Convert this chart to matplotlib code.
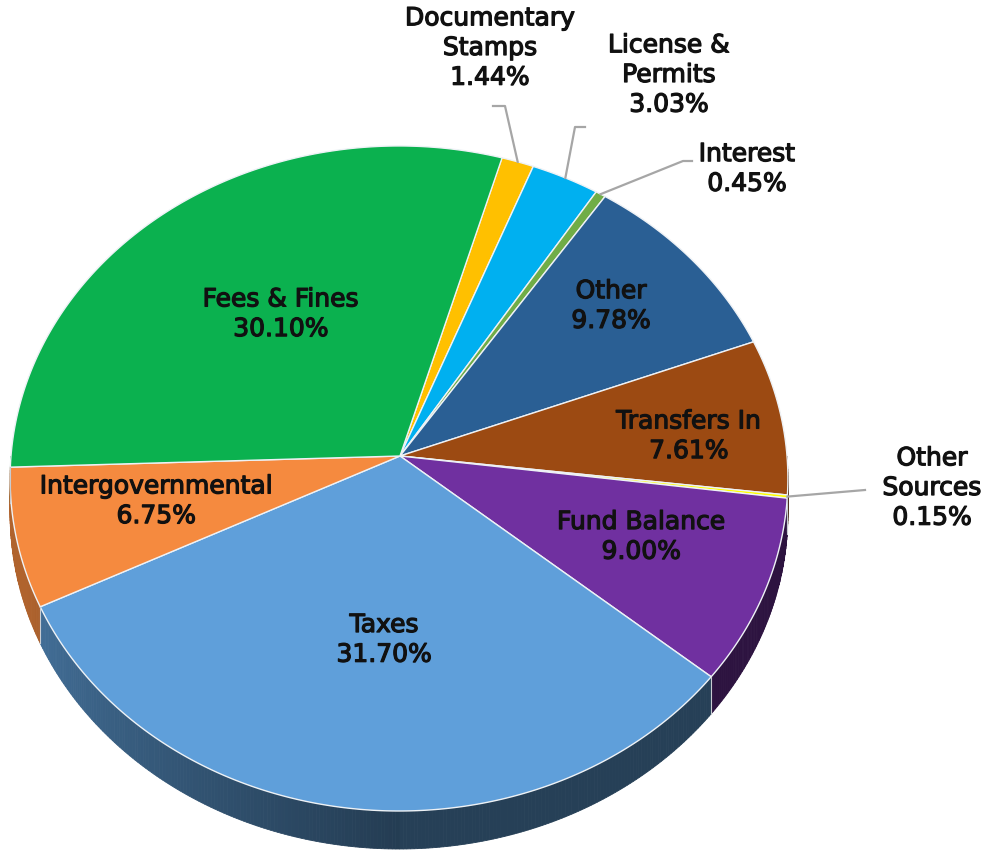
import numpy as np
import matplotlib.pyplot as plt
from matplotlib.patches import Polygon
from matplotlib import patheffects
from matplotlib.colors import to_rgb

# slices in clockwise order, starting just right of 12 o'clock
categories = ["Documentary Stamps", "License & Permits", "Interest", "Other",
              "Transfers In", "Other Sources", "Fund Balance", "Taxes",
              "Intergovernmental", "Fees & Fines"]
shares = [1.44, 3.03, 0.45, 9.78, 7.61, 0.15, 9.00, 31.70, 6.75, 30.10]
label_text = ["Documentary\nStamps", "License &\nPermits", "Interest", "Other",
              "Transfers In", "Other\nSources", "Fund Balance", "Taxes",
              "Intergovernmental", "Fees & Fines"]
colors = ["#ffc000", "#00b0f0", "#70ad47", "#2a5f94", "#9c4a12", "#ffff00",
          "#7030a0", "#5f9fda", "#f58a3f", "#0bb14f"]

# layout of the fake 3d pie (pixel space)
CX, CY = 399, 457
RX, RY = 388, 331
PERSP = 0.0676
DEPTH = 38
START = 16.4

# inside labels: (radius fraction, angle tweak in degrees)
inside = {
    "Other": (0.708, -1.5),
    "Transfers In": (0.747, 2.4),
    "Fund Balance": (0.668, -2.0),
    "Taxes": (0.557, -2.5),
    "Intergovernmental": (0.643, 1.8),
    "Fees & Fines": (0.527, 2.1),
}
# outside labels: text centre, leader elbow points
outside = {
    "Documentary Stamps": ((490, 49), [(505, 107), (493, 107)]),
    "License & Permits": ((669, 76), [(575, 128), (585, 128)]),
    "Interest": ((747, 170), [(683, 162), (692, 162)]),
    "Other Sources": ((932, 489), [(865, 491)]),
}


def rim(theta, r=1.0):
    t = np.radians(theta)
    w = 1.0 / (1.0 + PERSP * r * np.cos(t))
    return CX + RX * r * np.sin(t) * w, CY - RY * r * np.cos(t) * w


def drop(theta):
    t = np.radians(theta)
    w = 1.0 / (1.0 + PERSP * np.cos(t))
    return DEPTH * w * (1 - PERSP)


def side_factor(theta):
    if theta > 180:
        return 0.38 + 0.34 * min((theta - 180) / 70.0, 1.0)
    return 0.40


fig = plt.figure(figsize=(9.9, 8.54), dpi=100)
ax = fig.add_axes([0, 0, 1, 1])
ax.set_xlim(0, 990)
ax.set_ylim(854, 0)
ax.axis("off")

angles = START + np.concatenate([[0], np.cumsum(shares)]) * 3.6

# side walls (front half only)
for i, col in enumerate(colors):
    a0, a1 = max(angles[i], 90), min(angles[i + 1], 270)
    if a1 <= a0:
        continue
    ts = np.linspace(a0, a1, max(int((a1 - a0) * 2), 2))
    base = np.array(to_rgb(col))
    for t0, t1 in zip(ts[:-1], ts[1:]):
        x0, y0 = rim(t0)
        x1, y1 = rim(t1)
        c = base * side_factor((t0 + t1) / 2)
        ax.add_patch(Polygon([(x0, y0), (x1, y1), (x1, y1 + drop(t1)), (x0, y0 + drop(t0))],
                             closed=True, facecolor=c, edgecolor=c, lw=0.6))
# seams on the wall
for a in angles:
    a = a % 360
    if 90 < a < 270:
        x, y = rim(a)
        ax.plot([x, x], [y, y + drop(a)], color="#c8ccd2", lw=0.8)

# top faces
for i, col in enumerate(colors):
    ts = np.linspace(angles[i], angles[i + 1], max(int(shares[i] * 8), 4))
    pts = [(CX + 1, CY)] + [rim(t) for t in ts]
    ax.add_patch(Polygon(pts, closed=True, facecolor=col, edgecolor="#eef2f6", lw=1.0))

txt_kw = dict(ha="center", va="center", fontsize=18, color="#111111",
              family="DejaVu Sans", linespacing=1.3,
              path_effects=[patheffects.withStroke(linewidth=0.9, foreground="#111111")])

for i, name in enumerate(categories):
    text = f"{label_text[i]}\n{shares[i]:.2f}%"
    mid = (angles[i] + angles[i + 1]) / 2
    if name in inside:
        r, dt = inside[name]
        t = np.radians(mid + dt)
        ax.text(CX + 1 + RX * r * np.sin(t), CY - RY * r * np.cos(t), text, **txt_kw)
    else:
        (tx, ty), elbow = outside[name]
        pts = [rim(mid)] + elbow
        ax.plot([p[0] for p in pts], [p[1] for p in pts], color="#a6a6a6", lw=1.6)
        ax.text(tx, ty, text, **txt_kw)

fig.savefig("out.png", dpi=100)
